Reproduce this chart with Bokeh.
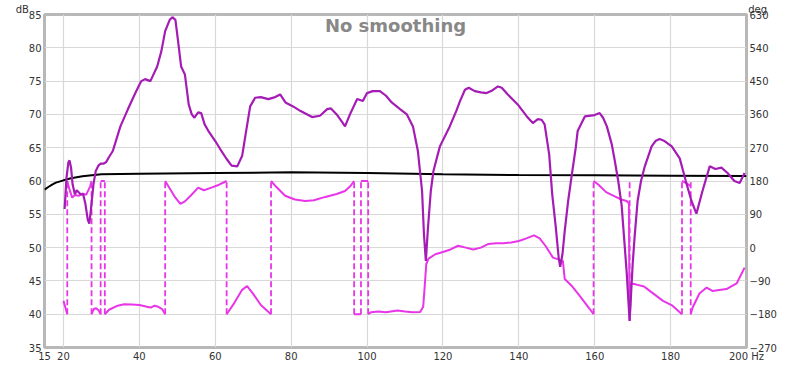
import numpy as np
from bokeh.plotting import figure
from bokeh.models import Range1d, LinearAxis, FixedTicker, Label
from bokeh.embed import file_html
from bokeh.resources import INLINE

# ---- data ----
mag_f = [20.3, 20.8, 21.3, 21.6, 22.0, 22.4, 23.0, 23.5, 24.0, 24.5, 25.2, 25.8, 26.4, 26.8, 27.2, 27.9,
         28.5, 29.2, 29.8, 30.5, 31.2, 32.0, 33.0, 35.0, 37.0, 39.0, 40.5, 41.5, 42.9, 44.7, 45.8, 46.8,
         48.0, 48.7, 49.5, 50.2, 51.0, 52.0, 53.0, 53.8, 54.5, 55.5, 56.3, 57.2, 58.2, 60.0, 61.3, 63.0,
         64.3, 65.8, 67.1, 68.0, 69.2, 70.5, 72.0, 74.0, 75.8, 77.1, 78.5, 80.5, 82.5, 85.5, 87.6, 89.5,
         90.5, 92.0, 93.5, 94.2, 95.5, 97.4, 98.9, 100.0, 101.5, 103.4, 105.0, 106.5, 108.7, 110.5, 112.1,
         113.4, 114.5, 115.0, 115.5, 116.0, 116.8, 117.5, 119.2, 121.8, 123.5, 124.5, 125.8, 126.8, 128.4,
         130.0, 131.5, 133.0, 134.5, 135.5, 137.1, 139.7, 142.1, 143.7, 145.0, 146.0, 146.8, 148.0, 148.8,
         149.7, 150.5, 150.9, 151.5, 152.1, 153.0, 153.9, 155.0, 155.5, 157.4, 160.0, 161.3, 162.2, 163.2,
         164.5, 165.3, 166.2, 167.1, 167.8, 168.4, 169.2, 170.0, 170.5, 171.3, 172.2, 173.2, 175.0, 176.0,
         177.1, 178.4, 180.3, 182.4, 183.3, 184.0, 185.5, 186.8, 188.4, 190.3, 191.8, 193.4, 195.0, 196.8,
         198.2, 199.5]
mag_db = [55.8, 60.5, 62.8, 63.1, 62.0, 59.5, 58.0, 58.6, 58.3, 58.0, 58.0, 56.5, 54.2, 53.6, 55.5, 59.5,
          61.5, 62.3, 62.6, 62.6, 62.8, 63.6, 64.5, 68.2, 70.8, 73.3, 75.0, 75.3, 75.0, 77.2, 79.5, 82.5,
          84.2, 84.6, 84.2, 81.0, 77.2, 76.0, 71.5, 70.0, 69.5, 70.3, 70.2, 68.5, 67.5, 66.0, 64.8, 63.3,
          62.3, 62.2, 63.8, 67.0, 71.2, 72.5, 72.6, 72.3, 72.6, 73.0, 71.8, 71.2, 70.5, 69.6, 69.8, 70.8,
          70.9, 70.0, 68.8, 68.2, 70.0, 72.3, 72.0, 73.2, 73.5, 73.5, 72.8, 71.8, 70.8, 70.0, 68.2,
          64.5, 58.5, 52.0, 48.0, 52.5, 58.5, 61.5, 65.2, 68.2, 70.5, 72.0, 73.7, 74.0, 73.5,
          73.3, 73.2, 73.6, 74.2, 74.0, 73.0, 71.5, 69.7, 68.7, 69.3, 69.2, 68.5, 64.0, 58.0,
          53.3, 48.5, 47.1, 49.0, 52.5, 57.0, 60.7, 65.0, 67.5, 69.7, 69.9, 70.2, 69.5, 68.2,
          65.5, 63.0, 60.0, 56.3, 51.0, 46.5, 39.0, 47.5, 51.5, 57.0, 60.0, 62.2, 65.2, 66.0,
          66.3, 66.0, 65.2, 63.4, 61.5, 60.0, 57.0, 55.1, 58.5, 62.2, 61.8, 62.0, 61.2, 60.0,
          59.7, 61.2]

target_f = [15, 16, 17, 18, 20, 22, 25, 30, 40, 60, 80, 100, 120, 140, 160, 180, 200]
target_db = [58.7, 59.1, 59.45, 59.75, 60.1, 60.4, 60.7, 61.0, 61.1, 61.2, 61.3, 61.2, 61.0, 60.9, 60.85, 60.8, 60.75]

# phase in degrees, segments separated by NaN (wrapped to -180..180)
nan = float("nan")
phase_f = [20.0, 20.5, 21.0, nan,
           21.0, 21.5, 22.3, 23.0, 24.0, 25.0, 26.0, 27.0, 27.4, nan,
           27.4, 28.0, 28.6, 29.3, 29.8, nan,
           29.8, 30.9, nan,
           30.9, 32.0, 34.0, 36.0, 38.0, 40.0, 42.0, 43.0, 44.0, 45.0, 46.0, 46.8, nan,
           46.8, 48.0, 49.5, 50.8, 52.0, 53.5, 55.5, 57.0, 59.0, 61.0, 63.0, nan,
           63.0, 65.0, 67.0, 68.4, 70.0, 72.0, 74.7, nan,
           74.7, 76.0, 78.4, 81.0, 83.7, 86.0, 89.0, 92.0, 94.2, 95.5, 96.6, nan,
           96.6, 98.4, nan,
           98.4, 100.3, nan,
           100.3, 101.0, 103.0, 105.0, 108.0, 110.0, 112.0, 114.0, 114.8, 115.3, 115.6, 116.2, 118.0, 120.0,
           122.0, 124.0, 126.0, 128.0, 130.0, 132.0, 134.0, 136.0, 138.0, 140.0, 142.0, 144.0, 145.5, 147.0,
           149.0, 151.6, 152.1, 153.9, 156.0, 158.7, 159.7, nan,
           159.7, 161.0, 163.0, 165.0, 167.0, 168.4, 169.0, 169.2, 169.6, 171.0, 173.0, 174.5, 178.0, 180.5,
           183.0, nan,
           183.0, 184.0, 185.3, nan,
           185.3, 185.8, 187.6, 189.5, 191.0, 194.7, 197.4, 199.5]
phase_deg = [-144, -162, -180, nan,
             180, 160, 135, 142, 140, 146, 143, 165, 180, nan,
             -180, -166, -164, -170, -180, nan,
             180, 180, nan,
             -180, -168, -158, -153, -154, -155, -160, -162, -157, -160, -166, -180, nan,
             180, 160, 135, 118, 125, 140, 162, 155, 162, 170, 180, nan,
             -180, -150, -115, -104, -125, -155, -180, nan,
             180, 165, 140, 130, 126, 128, 137, 145, 153, 165, 180, nan,
             -180, -180, nan,
             180, 180, nan,
             -180, -175, -173, -175, -170, -173, -175, -174, -160, -90, -45, -30, -18, -12,
             -5, 5, 0, -5, 0, 10, 12, 12, 14, 18, 25, 33, 25, 5,
             -27, -36, -85, -103, -130, -166, -180, nan,
             180, 170, 150, 140, 130, 126, 120, -198, -97, -100, -105, -117, -144, -157,
             -180, nan,
             180, 175, 166, nan,
             -180, -162, -124, -108, -117, -112, -97, -54]

wrap_f = [21.0, 27.4, 29.8, 30.9, 46.8, 63.0, 74.7, 96.6, 98.4, 100.3, 159.7, 169.2, 183.0, 185.3]

x_ticks = [15, 20, 40, 60, 80, 100, 120, 140, 160, 180, 200]
db_ticks = [35, 40, 45, 50, 55, 60, 65, 70, 75, 80, 85]
deg_ticks = [-270, -180, -90, 0, 90, 180, 270, 360, 450, 540, 630]
unit_left = "dB"
unit_right = "deg"

MAG_C = "#a51cb5"
PH_C = "#e835e8"
TXT_C = "#333333"
FONT = "DejaVu Sans"
NB = "\u00a0"

p = figure(width=800, height=365, x_range=Range1d(15, 200), y_range=Range1d(35, 85),
           output_backend="svg", toolbar_location=None,
           min_border_left=44, min_border_right=54, min_border_top=12, min_border_bottom=18)
p.extra_y_ranges = {"deg": Range1d(-270, 630)}

p.outline_line_color = "#b8b8b8"
p.outline_line_width = 3
p.background_fill_color = "white"
p.border_fill_color = "white"


def style_axis(ax):
    ax.axis_line_color = None
    ax.major_tick_line_color = None
    ax.minor_tick_line_color = None
    ax.major_tick_out = 0
    ax.major_tick_in = 0
    ax.major_label_text_font = FONT
    ax.major_label_text_font_size = "10px"
    ax.major_label_text_color = TXT_C
    ax.major_label_standoff = 3


style_axis(p.xaxis[0])
style_axis(p.yaxis[0])
p.xaxis.ticker = FixedTicker(ticks=x_ticks)
p.xaxis.major_label_overrides = {200: "200 Hz"}
p.yaxis.ticker = FixedTicker(ticks=db_ticks)

rax = LinearAxis(y_range_name="deg", ticker=FixedTicker(ticks=deg_ticks))
style_axis(rax)
p.add_layout(rax, "right")

# unit captions above the frame ("dB" over the left axis, "deg" over the right axis)
tax = LinearAxis(ticker=FixedTicker(ticks=[15, 200]))
style_axis(tax)
tax.major_label_standoff = 0
tax.major_label_text_align = "center"
tax.major_label_text_line_height = 1.0
tax.major_label_overrides = {15: unit_left + NB * 14, 200: NB * 7 + unit_right}
p.add_layout(tax, "above")

p.xgrid.ticker = FixedTicker(ticks=x_ticks[1:])
p.ygrid.ticker = FixedTicker(ticks=db_ticks)
p.xgrid.grid_line_color = "#d8d8d8"
p.ygrid.grid_line_color = "#d8d8d8"
p.xgrid.grid_line_width = 1.2
p.ygrid.grid_line_width = 1.2

# phase wraps (dashed)
p.segment(x0=wrap_f, y0=[-180] * len(wrap_f), x1=wrap_f, y1=[180] * len(wrap_f),
          y_range_name="deg", line_color=PH_C, line_width=1.8, line_dash="6 3")
# phase
p.line(phase_f, phase_deg, y_range_name="deg", line_color=PH_C, line_width=2)
# target
p.line(target_f, target_db, line_color="black", line_width=2)
# magnitude
p.line(mag_f, mag_db, line_color=MAG_C, line_width=2.2)

p.add_layout(Label(x=107.5, y=83.4, text="No smoothing", text_align="center", text_baseline="middle",
                   text_font=FONT, text_font_style="bold", text_font_size="18px", text_color="#888888"))

open("out.html", "w").write(file_html(p, INLINE))
